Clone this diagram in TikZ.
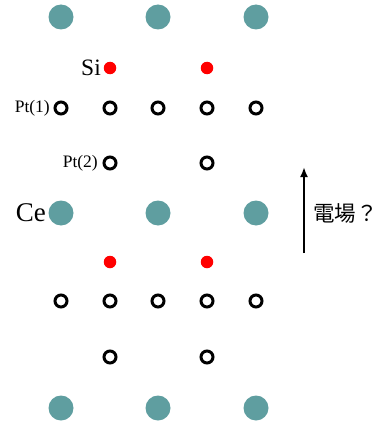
\documentclass[tikz,border=0pt]{standalone}
\usepackage{fontspec}
\usetikzlibrary{arrows.meta}
\setmainfont{Liberation Serif}
\newfontfamily\cjk{Noto Sans CJK JP}
\definecolor{ceteal}{HTML}{5F9EA0}
\begin{document}
\begin{tikzpicture}[x=1pt,y=-1pt,
  ce/.style={circle,fill=ceteal,minimum size=25pt,inner sep=0pt},
  si/.style={circle,fill=red,minimum size=12.5pt,inner sep=0pt},
  pt/.style={circle,draw=black,line width=3pt,minimum size=12pt,inner sep=0pt},
  lbl/.style={inner sep=0pt,anchor=east}]
\useasboundingbox (0,0) rectangle (378,428);
% Ce atoms
\foreach \x/\n in {61/a,158/b,256/c}{
  \node[ce] (ce1\n) at (\x,17) {};
  \node[ce] (ce2\n) at (\x,213) {};
  \node[ce] (ce3\n) at (\x,408) {};
}
% Si atoms
\foreach \x/\n in {110/a,207/b}{
  \node[si] (si1\n) at (\x,68) {};
  \node[si] (si2\n) at (\x,262) {};
}
% Pt(1) rows
\foreach \x/\n in {61/a,110/b,158/c,207/d,256/e}{
  \node[pt] (pa\n) at (\x,108) {};
  \node[pt] (pb\n) at (\x,301) {};
}
% Pt(2) rows
\foreach \x/\n in {110/a,207/b}{
  \node[pt] (pc\n) at (\x,163) {};
  \node[pt] (pd\n) at (\x,357) {};
}
% labels
\node[lbl,font=\fontsize{23.5}{26}\selectfont] (lsi) at (101,68) {Si};
\node[lbl,font=\fontsize{17.5}{20}\selectfont] (lp1) at (50,108) {Pt(1)};
\node[lbl,font=\fontsize{17.5}{20}\selectfont] (lp2) at (98,163) {Pt(2)};
\node[lbl,font=\fontsize{27}{29}\selectfont] (lce) at (46,213) {Ce};
% field arrow
\coordinate (e0) at (304,253);
\coordinate (e1) at (304,167);
\draw[line width=2.6pt,-{Latex[length=10pt,width=8pt]}] (e0) -- (e1);
\node[anchor=west,inner sep=0pt,font=\cjk\fontsize{21.5}{23}\selectfont] (field) at (313,213) {電場？};
\end{tikzpicture}
\end{document}
